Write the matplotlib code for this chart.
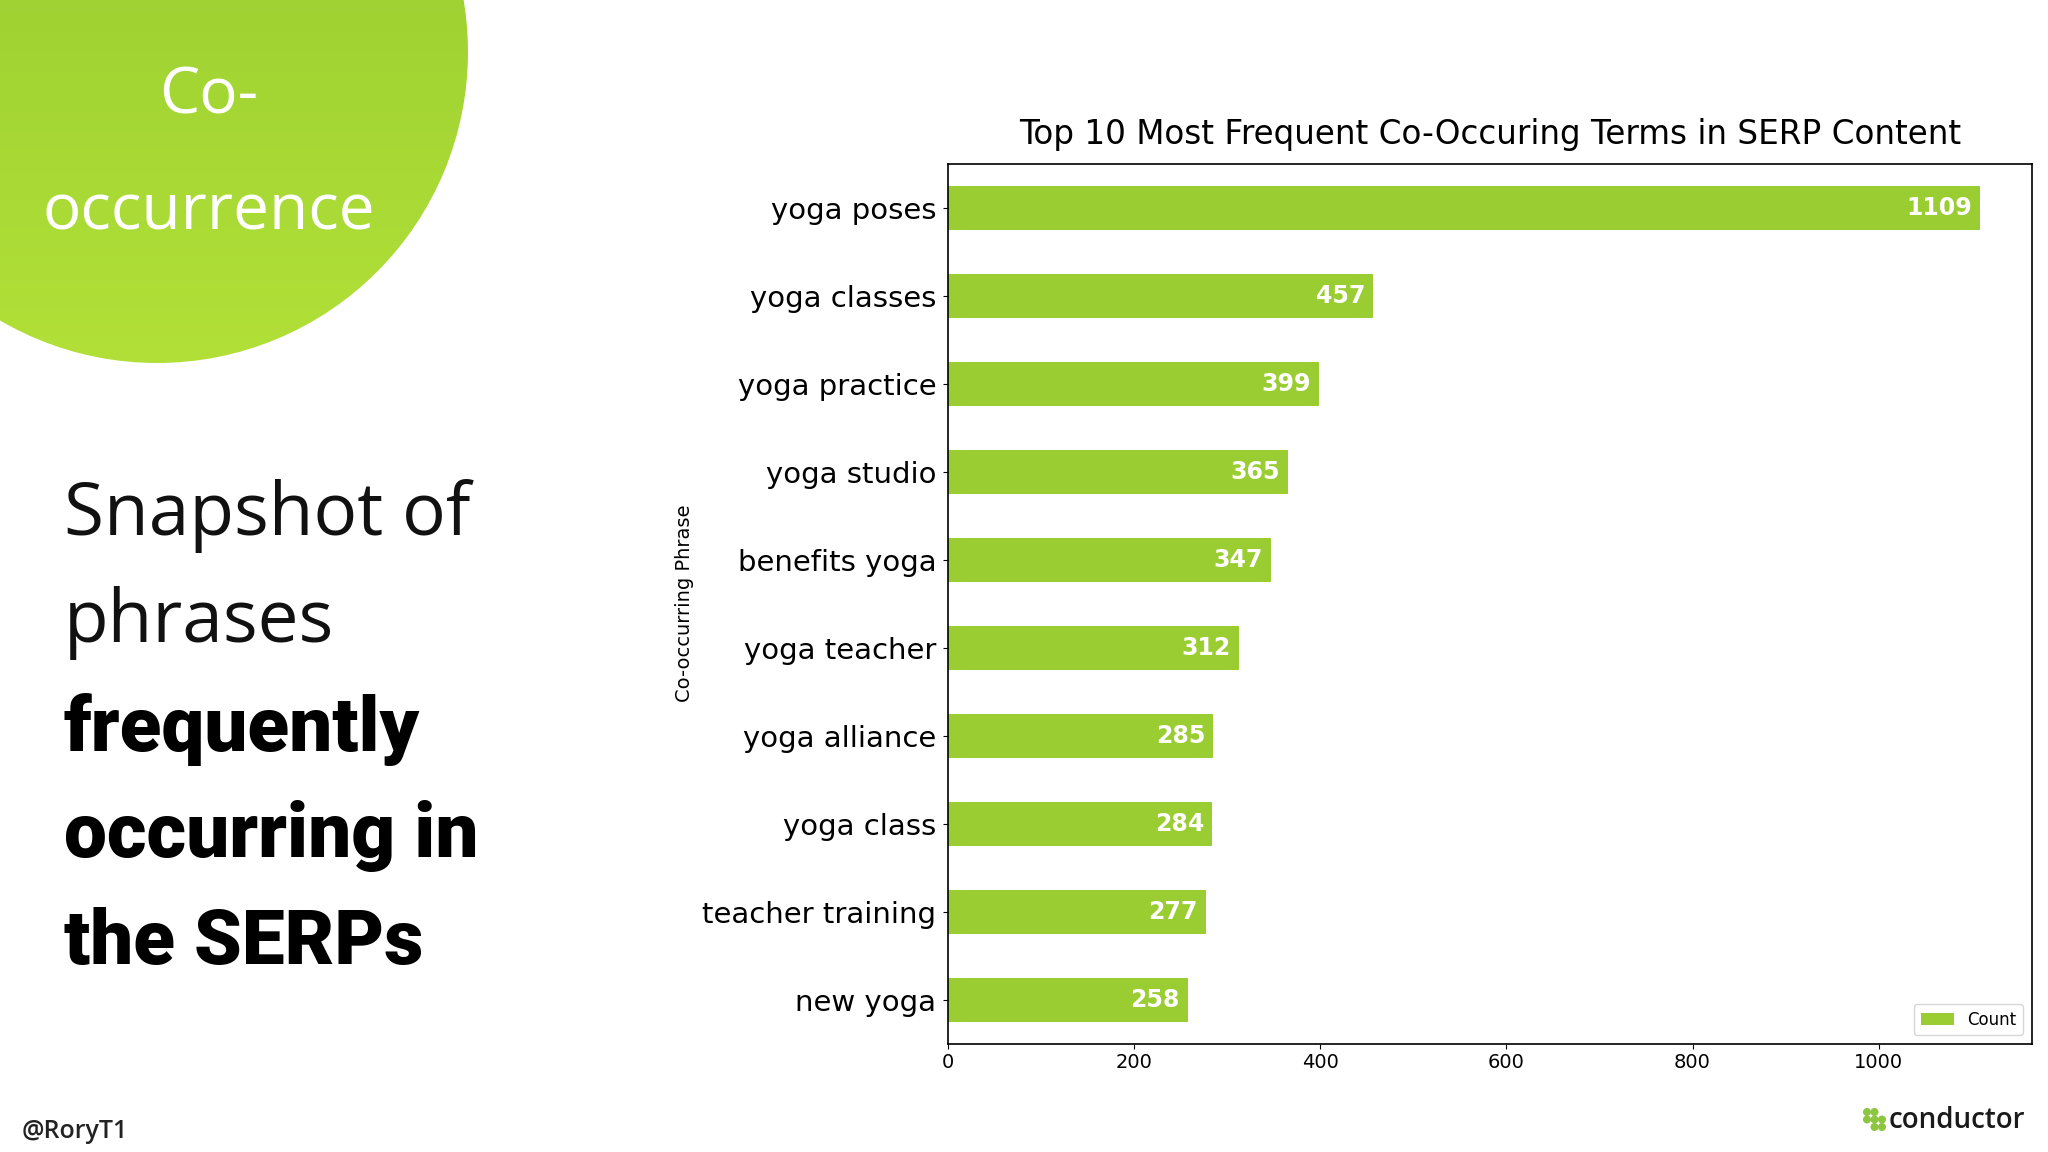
import numpy as np
import matplotlib
matplotlib.use('Agg')
import matplotlib.pyplot as plt
from matplotlib.patches import Circle

# chart data
terms = ['yoga poses', 'yoga classes', 'yoga practice', 'yoga studio', 'benefits yoga',
         'yoga teacher', 'yoga alliance', 'yoga class', 'teacher training', 'new yoga']
counts = [1109, 457, 399, 365, 347, 312, 285, 284, 277, 258]

bar_color = '#9acd32'

fig = plt.figure(figsize=(20.48, 11.52), dpi=100)
fig.patch.set_facecolor('white')

# background layer in pixel coordinates (slide decoration)
bg = fig.add_axes([0, 0, 1, 1])
bg.set_xlim(0, 2048)
bg.set_ylim(1152, 0)
bg.axis('off')

# green circle with a soft vertical gradient
circ = Circle((157, 52), 311, facecolor='none', edgecolor='none')
bg.add_patch(circ)
grad = np.linspace(0, 1, 256).reshape(-1, 1)
top = np.array([146, 201, 46]) / 255
bottom = np.array([178, 224, 56]) / 255
img = top + grad[..., None] * (bottom - top)
img = np.repeat(img, 2, axis=1)
im = bg.imshow(img, extent=(-160, 470, 365, -260), aspect='auto', zorder=1)
im.set_clip_path(circ)

bg.text(209, 96, 'Co-', color='white', fontsize=46, family='Open Sans',
        ha='center', va='center', zorder=2)
bg.text(209, 212, 'occurrence', color='white', fontsize=46, family='Open Sans',
        ha='center', va='center', zorder=2)

# left side description
lines = [('Snapshot of', 'normal'), ('phrases', 'normal'), ('frequently', 'black'),
         ('occurring in', 'black'), ('the SERPs', 'black')]
ys = [516, 623, 729, 836, 943]
for (txt, w), y in zip(lines, ys):
    if w == 'normal':
        bg.text(64, y, txt, color='#111111', fontsize=52.5, family='Open Sans',
                ha='left', va='center')
    else:
        bg.text(64, y, txt, color='#000000', fontsize=55, family='Roboto',
                fontweight='black', ha='left', va='center')

bg.text(22, 1131, '@RoryT1', color='#222222', fontsize=18, family='Open Sans',
        fontweight='semibold', ha='left', va='center')

# conductor logo
dots = [(0, 0), (1, 0), (0, 1), (1, 1), (2, 1), (1, 2), (2, 2)]
for dx, dy in dots:
    bg.add_patch(Circle((1867 + dx * 7.5, 1112 + dy * 7.5), 3.3, color='#8cc63f'))
bg.text(1889, 1121, 'conductor', color='#1a1a1a', fontsize=20, family='Open Sans',
        fontweight='semibold', ha='left', va='center')

# bar chart
ax = fig.add_axes([0.463, 0.094, 0.529, 0.764])
y = np.arange(len(terms))
bars = ax.barh(y, counts, height=0.5, color=bar_color, label='Count')
ax.set_ylim(len(terms) - 0.5, -0.5)
ax.set_yticks(y)
ax.set_yticklabels(terms, fontsize=21)
ax.tick_params(axis='y', pad=5)
ax.tick_params(axis='x', labelsize=14)
ax.set_ylabel('Co-occurring Phrase', fontsize=14, labelpad=6)
ax.set_title('Top 10 Most Frequent Co-Occuring Terms in SERP Content', fontsize=23.5, pad=14)

for b, v in zip(bars, counts):
    ax.annotate(str(v), xy=(b.get_width(), b.get_y() + b.get_height() / 2),
                xytext=(-6, 0), textcoords='offset points', ha='right', va='center',
                color='white', fontweight='bold', fontsize=17)

for s in ax.spines.values():
    s.set_linewidth(1.2)

ax.legend(loc='lower right', fontsize=12)

fig.savefig('out.png', dpi=100)
